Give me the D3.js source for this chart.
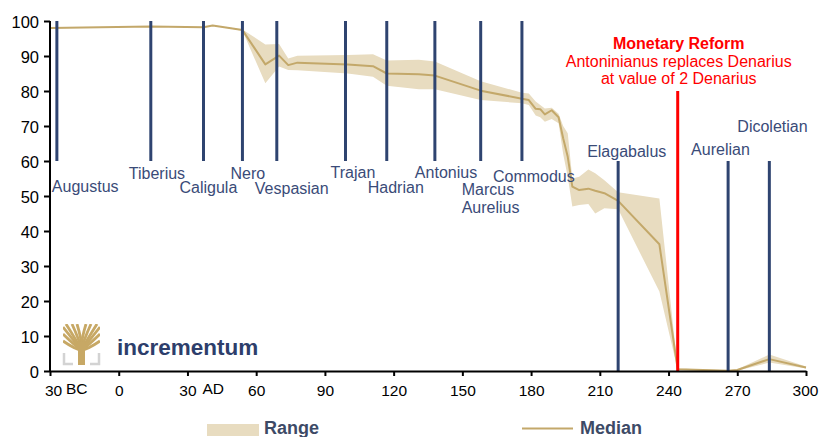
<!DOCTYPE html>
<html><head><meta charset="utf-8">
<script src="https://cdn.jsdelivr.net/npm/d3@7/dist/d3.min.js"></script>
<style>
html,body{margin:0;padding:0;background:#fff;}
svg{display:block;font-family:"Liberation Sans",Arial,sans-serif;}
</style></head>
<body>
<svg id="chart" width="819" height="437"></svg>
<script>
// ---------- data ----------
const years  = [-30, 14, 37, 41, 54, 64, 70, 74, 78, 100, 111, 117, 131, 138, 158, 176, 179, 182, 184, 186, 189, 192, 194, 196, 198, 201, 205, 208, 212, 218, 236, 244, 266, 270, 284, 300];
const median = [98.0, 98.4, 98.2, 98.7, 97.4, 87.6, 90.1, 87.4, 88.1, 87.6, 87.1, 85.0, 84.8, 84.4, 80.1, 77.8, 77.4, 74.9, 74.8, 73.3, 74.5, 72.5, 66.5, 61.2, 52.7, 51.7, 52.1, 51.5, 50.8, 48.6, 36.2, 0.5, 0.1, 0.3, 3.4, 1.0];
const rangeLow  = [98.0, 98.4, 98.2, 98.7, 97.2, 82.2, 87.0, 86.0, 85.9, 85.0, 84.1, 81.5, 80.5, 80.5, 77.4, 76.5, 76.0, 73.0, 72.5, 71.2, 72.0, 70.8, 62.0, 55.5, 47.0, 47.4, 47.7, 45.0, 46.5, 46.2, 22.7, 0.3, 0.0, 0.1, 2.4, 0.7];
const rangeHigh = [98.0, 98.4, 98.2, 98.7, 97.6, 93.3, 93.4, 89.3, 90.1, 90.3, 90.5, 88.7, 88.9, 88.4, 82.8, 79.5, 79.3, 77.0, 76.0, 75.0, 75.2, 73.5, 70.0, 67.9, 55.0, 55.5, 57.6, 56.5, 54.5, 51.1, 49.3, 0.7, 0.2, 0.5, 4.7, 1.3];

const emperorNames = ["Augustus", "Tiberius", "Caligula", "Nero", "Vespasian", "Trajan", "Hadrian", "Antonius", "Marcus\nAurelius", "Commodus", "Elagabalus", "Aurelian", "Dicoletian"];
const emperorYears = [-27, 14, 37, 54, 69, 99, 117, 138, 158, 176, 218, 266, 284];
const emperorFrom  = [60, 60, 60, 60, 60, 60, 60, 60, 60, 60, 0, 0, 0];
const emperorTo    = [100, 100, 100, 100, 100, 100, 100, 100, 100, 100, 60, 60, 60];

const reformYear = 244;
const reformFrom = 0, reformTo = 80;
const reformTitle = "Monetary Reform";
const reformLines = ["Antoninianus replaces Denarius", "at value of 2 Denarius"];

const xTicks = [-30, 0, 30, 60, 90, 120, 150, 180, 210, 240, 270, 300];
const yTicks = [0, 10, 20, 30, 40, 50, 60, 70, 80, 90, 100];

// ---------- layout (label placement, px offsets) ----------
const labelLayout = [
  {dx:-5,  v:51.1}, {dx:-22, v:54.9}, {dx:-24, v:50.9}, {dx:-12, v:54.9},
  {dx:-22, v:50.6}, {dx:-15, v:55.1}, {dx:-19, v:50.8}, {dx:-20, v:55.1},
  {dx:-19, v:50.3}, {dx:-29, v:54.1}, {dx:-31, v:61.1}, {dx:-37, v:61.8},
  {dx:-32, v:68.4}
];

const svg = d3.select("#chart");
const x = d3.scaleLinear().domain([-30, 300]).range([50, 806]);
const y = d3.scaleLinear().domain([0, 100]).range([371, 21]);

const series = years.map((yr, i) => ({yr, m: median[i], lo: rangeLow[i], hi: rangeHigh[i]}));

// range band
svg.append("path").datum(series)
  .attr("fill", "#e8dcc0")
  .attr("d", d3.area().x(d => x(d.yr)).y0(d => y(d.lo)).y1(d => y(d.hi)));

// median
svg.append("path").datum(series)
  .attr("fill", "none").attr("stroke", "#c3a86a").attr("stroke-width", 2)
  .attr("stroke-linejoin", "round")
  .attr("d", d3.line().x(d => x(d.yr)).y(d => y(d.m)));

// emperor lines
const navy = "#2f4470";
svg.append("g").selectAll("line").data(emperorYears).join("line")
  .attr("x1", d => x(d)).attr("x2", d => x(d))
  .attr("y1", (d, i) => y(emperorTo[i])).attr("y2", (d, i) => y(emperorFrom[i]))
  .attr("stroke", navy).attr("stroke-width", 3);

// emperor labels
const lab = svg.append("g").attr("font-size", 16).attr("fill", "#3a4b78");
emperorNames.forEach((name, i) => {
  const t = lab.append("text")
    .attr("x", x(emperorYears[i]) + labelLayout[i].dx)
    .attr("y", y(labelLayout[i].v));
  name.split("\n").forEach((part, k) => {
    t.append("tspan").attr("x", x(emperorYears[i]) + labelLayout[i].dx)
      .attr("dy", k === 0 ? 0 : 17.7).text(part);
  });
});

// reform line
svg.append("line")
  .attr("x1", x(reformYear)).attr("x2", x(reformYear))
  .attr("y1", y(reformTo)).attr("y2", y(reformFrom))
  .attr("stroke", "#ff0000").attr("stroke-width", 3);
const rt = svg.append("text").attr("text-anchor", "middle").attr("fill", "#ff0000").attr("font-size", 16);
rt.append("tspan").attr("x", x(reformYear) + 1).attr("y", 49.3).attr("font-weight", "bold").text(reformTitle);
reformLines.forEach((l, k) => rt.append("tspan").attr("x", x(reformYear) + 1).attr("dy", k === 0 ? 17.4 : 17.6).text(l));

// axes
const yAxis = svg.append("g").attr("transform", "translate(50,0)")
  .call(d3.axisLeft(y).tickValues(yTicks).tickSize(6).tickPadding(5));
yAxis.selectAll("text").attr("font-size", 16.5).attr("fill", "#000").attr("dy", "0.42em").attr("font-family", "Liberation Sans, Arial, sans-serif");

const xAxis = svg.append("g").attr("transform", "translate(0,371)")
  .call(d3.axisBottom(x).tickValues(xTicks).tickFormat(d => Math.abs(d)).tickSize(5).tickPadding(9).tickSizeOuter(0));
xAxis.selectAll("text").attr("font-size", 15.5).attr("fill", "#000").attr("font-family", "Liberation Sans, Arial, sans-serif");
xAxis.selectAll(".tick text").filter(d => d === -30).attr("dx", 3);
xAxis.selectAll(".tick text").filter(d => d === 300).attr("dx", -1);
[yAxis, xAxis].forEach(a => {
  a.select(".domain").attr("stroke", "#000").attr("stroke-width", 2);
  a.selectAll(".tick line").attr("stroke", "#000").attr("stroke-width", 2);
});
yAxis.select(".domain").attr("d", "M0," + y(100) + "V" + y(0));

svg.append("text").attr("x", x(-30) + 16).attr("y", 393.5).attr("font-size", 15.5).text("BC");
svg.append("text").attr("x", x(30) + 15).attr("y", 393.5).attr("font-size", 15.5).text("AD");

// logo
const logo = svg.append("g").attr("transform", "translate(63,324)");
const gold = "#c7a865";
logo.append("clipPath").attr("id", "lc").append("rect").attr("width", 37).attr("height", 30);
const br = logo.append("g").attr("clip-path", "url(#lc)").attr("stroke", gold).attr("stroke-width", 2.8).attr("fill", "none");
[[0,3],[0,10],[0,17],[3,0],[9,0],[14,0],[23,0],[28,0],[34,0],[37,3],[37,10],[37,17]].forEach(p => {
  br.append("path").attr("d", `M18.5,26 Q${(18.5 + p[0]) / 2 + (p[0] < 18.5 ? 3 : -3)},${(26 + p[1]) / 2 + 4} ${p[0]},${p[1]}`);
});
logo.append("rect").attr("x", 15).attr("y", 18).attr("width", 7).attr("height", 23).attr("fill", gold);
logo.append("path").attr("d", "M1,29V40H10 M36,29V40H27").attr("stroke", "#d3d3d3").attr("stroke-width", 2.5).attr("fill", "none");
svg.append("text").attr("x", 117).attr("y", 354.5).attr("font-size", 22.5).attr("font-weight", "bold")
  .attr("fill", "#2d3e6b").text("incrementum");

// legend
svg.append("rect").attr("x", 207).attr("y", 424).attr("width", 52).attr("height", 12).attr("fill", "#e8dcc0");
svg.append("text").attr("x", 264).attr("y", 434).attr("font-size", 18).attr("font-weight", "bold").attr("fill", "#3d4a66").text("Range");
svg.append("line").attr("x1", 522).attr("x2", 573).attr("y1", 428.5).attr("y2", 428.5).attr("stroke", "#c3a86a").attr("stroke-width", 2);
svg.append("text").attr("x", 580).attr("y", 434).attr("font-size", 18).attr("font-weight", "bold").attr("fill", "#3d4a66").text("Median");
</script>
</body></html>
